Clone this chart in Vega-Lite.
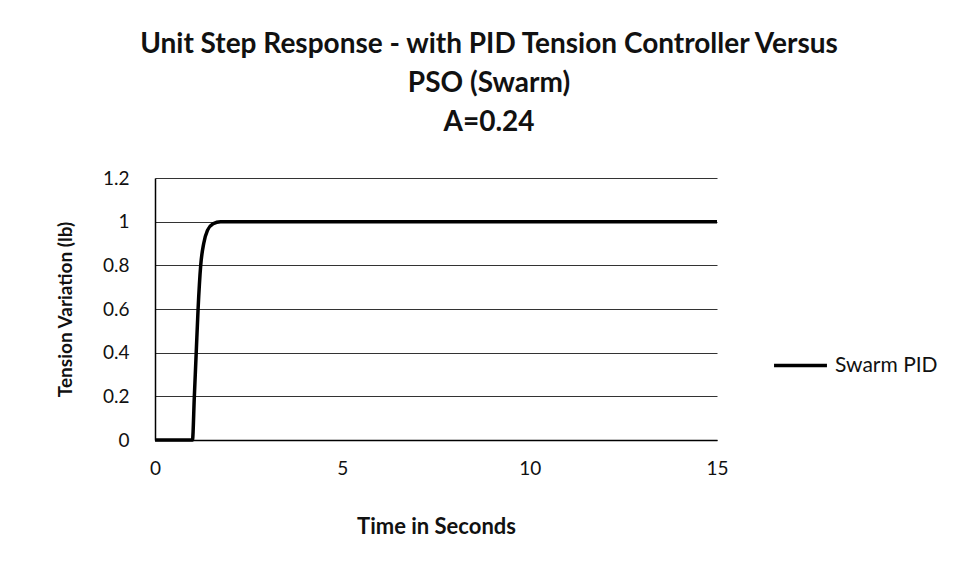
{
  "$schema": "https://vega.github.io/schema/vega-lite/v6.json",
  "width": 562,
  "height": 262,
  "autosize": {"type": "none"},
  "padding": {"left": 155, "top": 178, "right": 253, "bottom": 138},
  "background": "white",
  "title": {
    "text": ["Unit Step Response - with PID Tension Controller  Versus", "PSO (Swarm)", "A=0.24"],
    "font": "Lato",
    "fontSize": 28,
    "fontWeight": "bold",
    "color": "#111",
    "lineHeight": 39,
    "anchor": "middle",
    "dx": 53,
    "offset": 32
  },
  "data": {
    "values": [
      {"t": 0, "v": 0, "s": "Swarm PID"},
      {"t": 1.0, "v": 0, "s": "Swarm PID"},
      {"t": 1.05, "v": 0.2, "s": "Swarm PID"},
      {"t": 1.1, "v": 0.4, "s": "Swarm PID"},
      {"t": 1.15, "v": 0.6, "s": "Swarm PID"},
      {"t": 1.22, "v": 0.8, "s": "Swarm PID"},
      {"t": 1.3, "v": 0.9, "s": "Swarm PID"},
      {"t": 1.4, "v": 0.96, "s": "Swarm PID"},
      {"t": 1.55, "v": 0.99, "s": "Swarm PID"},
      {"t": 1.75, "v": 1.0, "s": "Swarm PID"},
      {"t": 15, "v": 1.0, "s": "Swarm PID"}
    ]
  },
  "mark": {"type": "line", "strokeWidth": 3.5, "interpolate": "monotone"},
  "encoding": {
    "x": {
      "field": "t", "type": "quantitative",
      "scale": {"domain": [0, 15], "nice": false},
      "axis": {
        "title": "Time in Seconds",
        "values": [0, 5, 10, 15],
        "grid": false,
        "ticks": false,
        "labelFlush": false,
        "labelPadding": 19,
        "titlePadding": 38,
        "titleFontSize": 22
      }
    },
    "y": {
      "field": "v", "type": "quantitative",
      "scale": {"domain": [0, 1.2], "nice": false},
      "axis": {
        "title": "Tension Variation (lb)",
        "values": [0, 0.2, 0.4, 0.6, 0.8, 1, 1.2],
        "format": "~g",
        "grid": true,
        "ticks": false,
        "labelFlush": false,
        "labelPadding": 26,
        "titlePadding": 27,
        "titleFontSize": 19
      }
    },
    "color": {
      "field": "s", "type": "nominal",
      "scale": {"range": ["#000000"]},
      "legend": {
        "title": null,
        "orient": "none",
        "legendX": 617,
        "legendY": 159,
        "symbolType": "stroke",
        "symbolSize": 2800,
        "symbolStrokeWidth": 3.5,
        "labelFont": "Lato",
        "labelFontSize": 21,
        "labelColor": "#111",
        "labelOffset": 6
      }
    }
  },
  "config": {
    "view": {"stroke": null},
    "axis": {
      "labelFont": "Lato",
      "labelFontSize": 19,
      "labelColor": "#111",
      "titleFont": "Lato",
      "titleFontWeight": "bold",
      "titleColor": "#111",
      "domainColor": "#000",
      "domainWidth": 1.5,
      "gridColor": "#333",
      "gridWidth": 1
    }
  }
}
